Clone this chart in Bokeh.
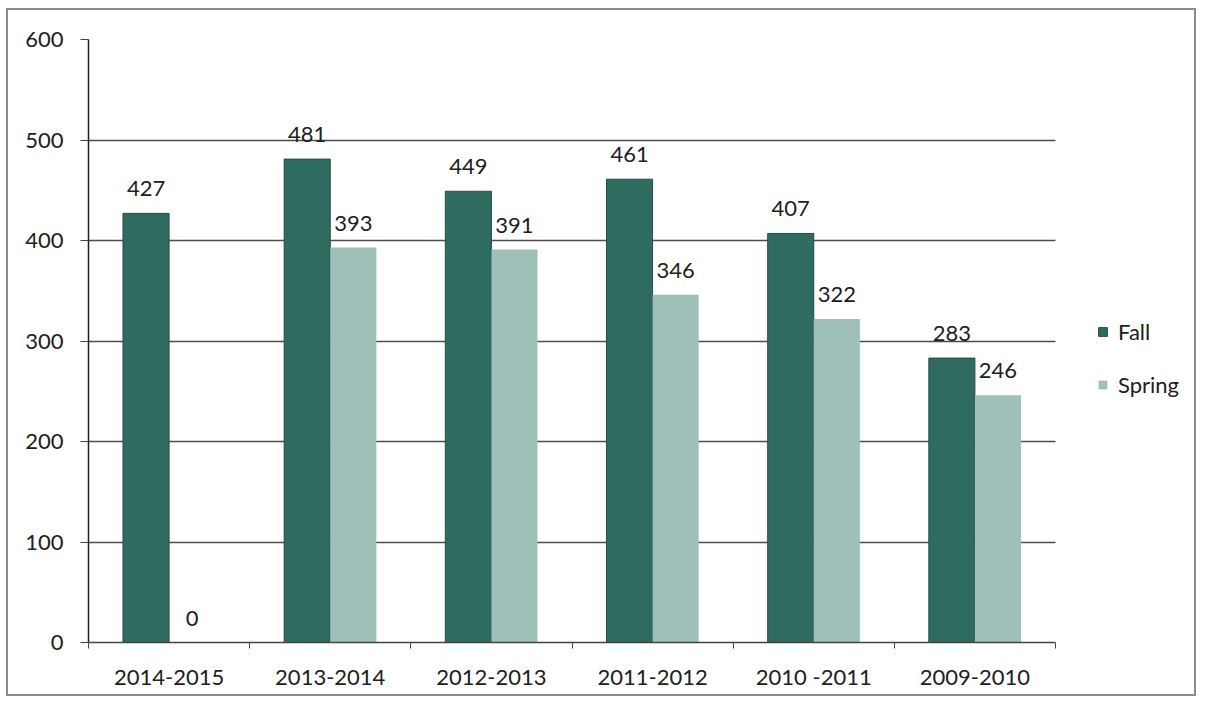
from bokeh.plotting import figure
from bokeh.models import (ColumnDataSource, FixedTicker, Range1d, Legend, LegendItem, LabelSet, BoxAnnotation)
from bokeh.core.properties import value
from bokeh.embed import file_html
from bokeh.resources import INLINE

categories = ["2014-2015", "2013-2014", "2012-2013", "2011-2012", "2010 -2011", "2009-2010"]
fall = [427, 481, 449, 461, 407, 283]
spring = [0, 393, 391, 346, 322, 246]

FONT = "Lato"
TXT = "#202020"
FALL_C = "#2f6b5f"
SPRING_C = "#9fbfb9"

# layout (pixels)
W, H = 1190, 688
LEFT, TOP, BOTTOM = 80, 29, 56
DATA_W = 967  # pixel width of the plotted categories

n = len(categories)
frame_w = W - LEFT
x_end = n * frame_w / DATA_W

centers = [i + 0.5 for i in range(n)]
bw = 0.286
src = ColumnDataSource(dict(
    xf=[c - bw / 2 for c in centers], xs=[c + bw / 2 for c in centers],
    fall=fall, spring=spring,
    fl=[str(v) for v in fall], sl=[str(v) for v in spring],
))

p = figure(width=W, height=H, output_backend="svg", toolbar_location=None,
           x_range=Range1d(0, x_end), y_range=Range1d(0, 600),
           min_border_left=LEFT, min_border_right=0, min_border_top=TOP, min_border_bottom=BOTTOM)
p.styles = {"border": "2px solid #8c8c8c", "margin-left": "6px", "margin-top": "8px"}
p.outline_line_color = None
p.background_fill_color = "white"
p.border_fill_color = "white"

rf = p.vbar(x="xf", top="fall", width=bw, source=src, fill_color=FALL_C, line_color="#244f46", line_width=1)
rs = p.vbar(x="xs", top="spring", width=bw, source=src, fill_color=SPRING_C, line_color=None)

for xcol, ycol, tcol in (("xf", "fall", "fl"), ("xs", "spring", "sl")):
    p.add_layout(LabelSet(x=xcol, y=ycol, text=tcol, source=src, text_align="center",
                          text_baseline="bottom", y_offset=17, text_font=value(FONT),
                          text_font_size="22px", text_color=TXT))

# axes
p.xaxis.ticker = FixedTicker(ticks=centers, minor_ticks=list(range(n + 1)))
p.xaxis.major_label_overrides = {c: lab for c, lab in zip(centers, categories)}
p.xaxis.bounds = (0, n)
p.xaxis.major_tick_out = 0
p.xaxis.major_tick_in = 0
p.xaxis.minor_tick_out = 6
p.xaxis.minor_tick_in = 0
p.xaxis.minor_tick_line_color = "#444444"
p.xaxis.major_label_standoff = 14
p.xaxis.axis_line_color = "#444444"
p.xaxis.axis_line_width = 1.5

p.yaxis.ticker = FixedTicker(ticks=[0, 100, 200, 300, 400, 500, 600], minor_ticks=[])
p.yaxis.major_tick_out = 8
p.yaxis.major_tick_in = 0
p.yaxis.major_tick_line_color = "#444444"
p.yaxis.major_label_standoff = 17
p.yaxis.axis_line_color = "#222222"
p.yaxis.axis_line_width = 1.5

for ax in (p.xaxis, p.yaxis):
    ax.major_label_text_font = FONT
    ax.major_label_text_font_size = "22px"
    ax.major_label_text_color = TXT

p.xgrid.grid_line_color = None
p.ygrid.ticker = FixedTicker(ticks=[100, 200, 300, 400, 500, 600])
p.ygrid.grid_line_color = "#4d4d4d"
p.ygrid.grid_line_width = 1.4

# blank out gridlines to the right of the category area (legend zone)
p.add_layout(BoxAnnotation(left=n, fill_color="white", fill_alpha=1, line_color=None))

legend = Legend(items=[LegendItem(label="Fall", renderers=[rf]),
                       LegendItem(label="Spring", renderers=[rs])],
                location=(1009, 244), orientation="vertical",
                label_text_font=FONT, label_text_font_size="22px", label_text_color=TXT,
                glyph_width=11, glyph_height=11, label_height=24, label_standoff=10,
                spacing=26, padding=0, margin=0, border_line_color=None,
                background_fill_alpha=0)
p.add_layout(legend, "center")

open("out.html", "w").write(file_html(p, INLINE))
